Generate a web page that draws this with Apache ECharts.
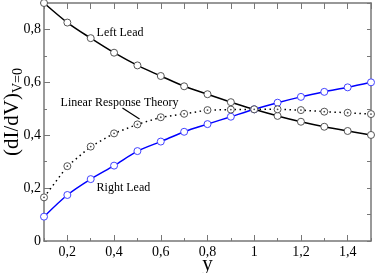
<!DOCTYPE html>
<html>
<head>
<meta charset="utf-8">
<script src="https://cdn.jsdelivr.net/npm/echarts@6/dist/echarts.min.js"></script>
<style>html,body{margin:0;padding:0;background:#fff}#c{width:375px;height:273px}</style>
</head>
<body>
<div id="c"></div>
<script>
const xValues = [0.1,0.2,0.3,0.4,0.5,0.6,0.7,0.8,0.9,1.0,1.1,1.2,1.3,1.4,1.5];
const leftLead = [0.900,0.826,0.767,0.712,0.664,0.624,0.585,0.555,0.525,0.498,0.473,0.451,0.432,0.416,0.401];
const rightLead = [0.092,0.174,0.234,0.285,0.340,0.376,0.413,0.442,0.470,0.498,0.523,0.545,0.564,0.581,0.600];
const linearResponse = [0.165,0.283,0.357,0.407,0.441,0.468,0.481,0.495,0.497,0.498,0.498,0.495,0.489,0.485,0.480];
const xTickLabels = [0.2,0.4,0.6,0.8,1.0,1.2,1.4];
const yTickLabels = [0,0.2,0.4,0.6,0.8];
const noteText = ['Left Lead','Linear Response Theory','Right Lead'];
const noteX = [0.325,0.171,0.325];
const noteY = [0.787,0.522,0.200];
const arrowFrom = [0.436,0.503];
const arrowTo = [0.509,0.461];

const FONT = 'Liberation Serif';
const AX = '#777';
const fmt = v => (Math.round(v*10)/10).toString().replace('.', ',');
const pairs = arr => xValues.map((x,i)=>[x,arr[i]]);

const chart = echarts.init(document.getElementById('c'));
chart.setOption({
  animation:false,
  backgroundColor:'#fff',
  grid:{left:44,right:4,top:3,bottom:32,containLabel:false,outerBoundsMode:'none'},
  xAxis:[
    {type:'value',position:'bottom',min:0.1,max:1.5,interval:0.1,
     axisLine:{show:true,onZero:false,lineStyle:{color:AX,width:1.5}},
     axisTick:{show:true,inside:true,length:3,lineStyle:{color:AX,width:1}},
     axisLabel:{show:true,customValues:xTickLabels,formatter:fmt,fontFamily:FONT,fontSize:14,color:'#000',margin:4},
     splitLine:{show:false},
     name:'y',nameLocation:'middle',nameGap:13,nameMoveOverlap:false,
     nameTextStyle:{fontFamily:FONT,fontSize:21,color:'#000'}},
    {type:'value',position:'bottom',min:0.1,max:1.5,
     axisLine:{show:false},
     axisTick:{show:true,inside:true,length:6,customValues:xTickLabels,lineStyle:{color:AX,width:1}},
     axisLabel:{show:false},splitLine:{show:false}},
    {type:'value',position:'top',min:0.1,max:1.5,interval:0.1,
     axisLine:{show:true,onZero:false,lineStyle:{color:AX,width:1.5}},
     axisTick:{show:true,inside:true,length:6,lineStyle:{color:AX,width:1}},
     axisLabel:{show:false},splitLine:{show:false}}
  ],
  yAxis:[
    {type:'value',position:'left',min:0,max:0.9,interval:0.1,
     axisLine:{show:true,onZero:false,lineStyle:{color:AX,width:1.5}},
     axisTick:{show:true,inside:true,length:3,lineStyle:{color:AX,width:1}},
     axisLabel:{show:true,customValues:yTickLabels,formatter:fmt,fontFamily:FONT,fontSize:14,color:'#000',margin:3},
     splitLine:{show:false},
     name:'{a|(dI/dV)}{b|V=0}',nameLocation:'middle',nameRotate:90,nameGap:19,nameMoveOverlap:false,
     nameTextStyle:{padding:[0,0,0,20],rich:{
       a:{fontFamily:FONT,fontSize:21,color:'#000',lineHeight:26},
       b:{fontFamily:FONT,fontSize:14,color:'#000',verticalAlign:'bottom',lineHeight:26}
     }}},
    {type:'value',position:'left',min:0,max:0.9,
     axisLine:{show:false},
     axisTick:{show:true,inside:true,length:6,customValues:[0.2,0.4,0.6,0.8],lineStyle:{color:AX,width:1}},
     axisLabel:{show:false},splitLine:{show:false}},
    {type:'value',position:'right',min:0,max:0.9,interval:0.1,
     axisLine:{show:true,onZero:false,lineStyle:{color:AX,width:1.5}},
     axisTick:{show:true,inside:true,length:4,lineStyle:{color:AX,width:1}},
     axisLabel:{show:false},splitLine:{show:false}}
  ],
  series:[
    {name:'Left Lead',type:'line',data:pairs(leftLead),smooth:0.3,
     symbol:'circle',symbolSize:7,
     lineStyle:{color:'#000',width:1.5},itemStyle:{color:'#fff',borderColor:'#555',borderWidth:1}},
    {name:'Right Lead',type:'line',data:pairs(rightLead),smooth:0.3,
     symbol:'circle',symbolSize:7,
     lineStyle:{color:'#0000ff',width:1.5},itemStyle:{color:'#fff',borderColor:'#4444ff',borderWidth:1}},
    {name:'Linear Response Theory',type:'line',data:pairs(linearResponse),
     symbol:'circle',symbolSize:7,
     lineStyle:{color:'#000',width:1.5,type:[1.5,3.5]},itemStyle:{color:'#fff',borderColor:'#555',borderWidth:1}},
    {name:'LRT dots',type:'scatter',data:pairs(linearResponse),symbol:'circle',symbolSize:1.8,
     itemStyle:{color:'#222'},z:5},
    {name:'arrow',type:'line',data:[],
     markLine:{silent:true,symbol:['none','arrow'],symbolSize:[0,7],label:{show:false},
       lineStyle:{color:'#000',width:1.2,type:'solid'},
       data:[[{coord:arrowFrom},{coord:arrowTo}]]}}
  ]
});
const notes = noteText.map((t,i)=>{
  const p = chart.convertToPixel({xAxisIndex:0,yAxisIndex:0},[noteX[i],noteY[i]]);
  return {type:'text',x:p[0],y:p[1],z:10,
    style:{text:t,fontFamily:FONT,fontSize:12,fill:'#000',align:'left',verticalAlign:'middle'}};
});
chart.setOption({graphic:notes});
</script>
</body>
</html>
